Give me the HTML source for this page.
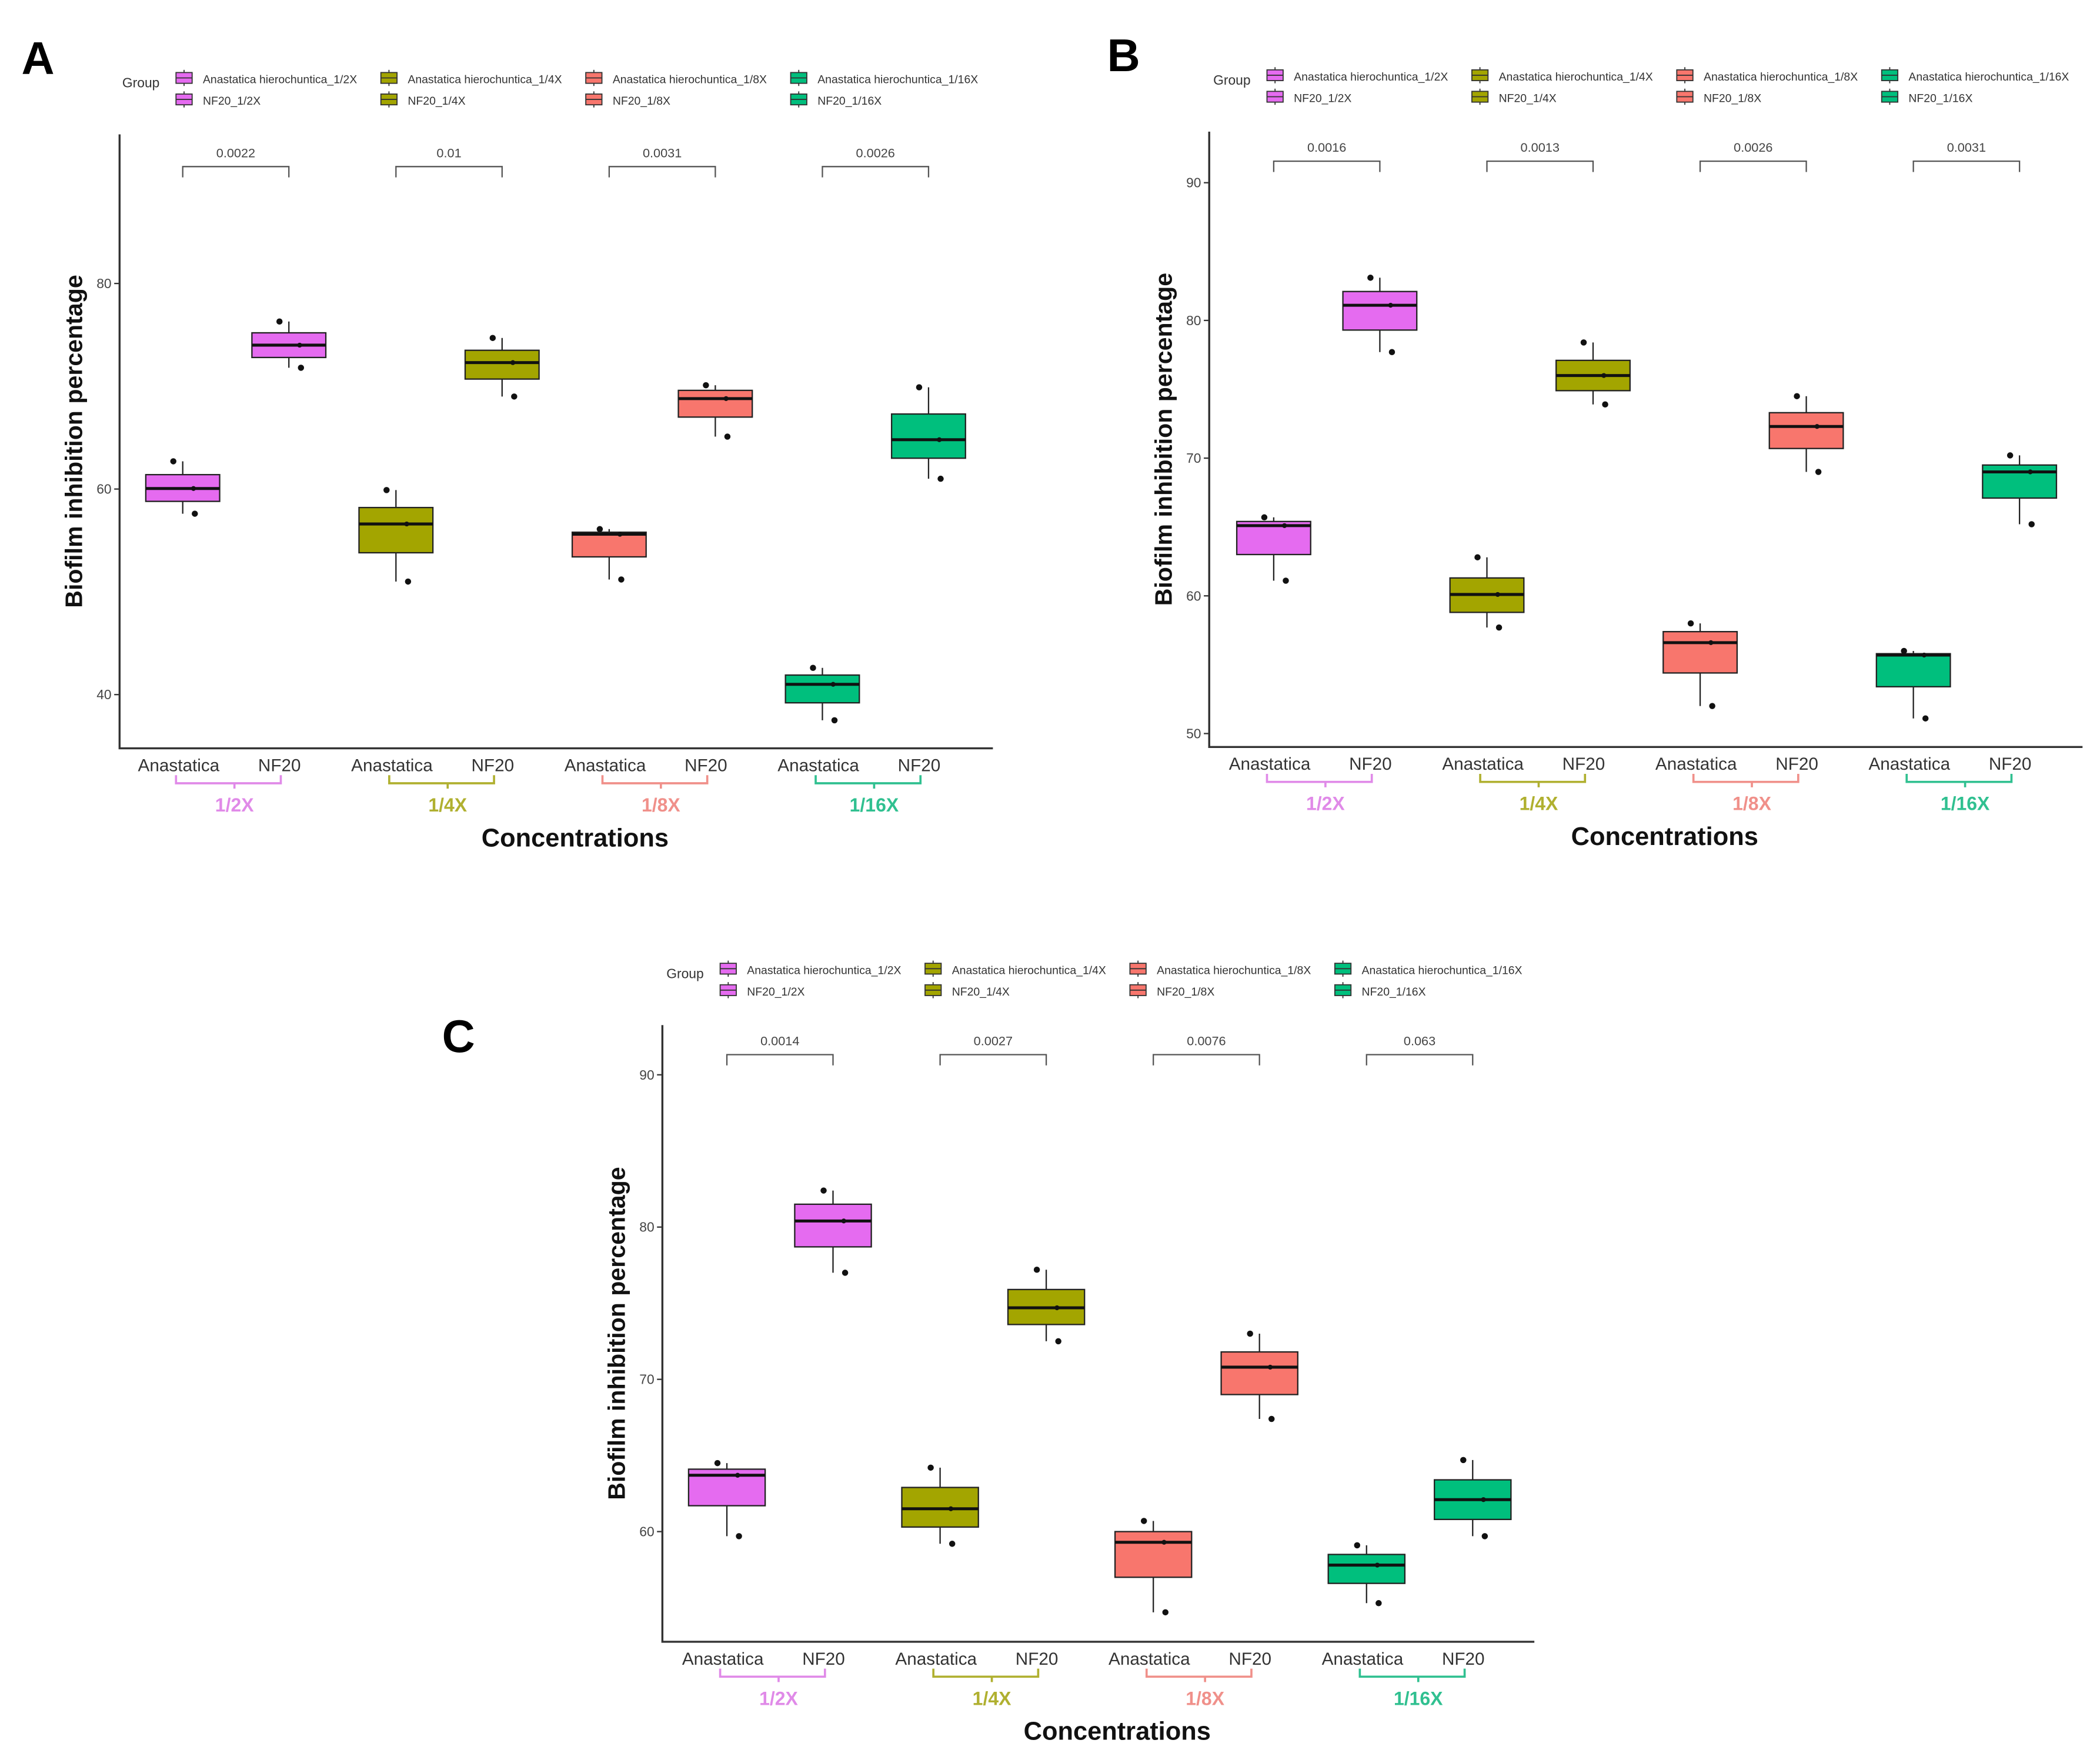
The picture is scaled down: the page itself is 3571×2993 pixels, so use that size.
<!DOCTYPE html>
<html><head><meta charset="utf-8"><style>
html,body{margin:0;padding:0;background:#fff}
svg{display:block}
text{font-family:"Liberation Sans",Arial,sans-serif}
</style></head><body>
<svg id="fig" width="3571" height="2993" viewBox="0 0 1563 1310" preserveAspectRatio="none" xmlns="http://www.w3.org/2000/svg"></svg>
<script>
const groups = ["1/2X","1/4X","1/8X","1/16X"];
const colors = ["#E56BF0","#A3A500","#F8766D","#00BF7D"];
const labelColors = ["#E08AE8","#B0B030","#F0908A","#30C090"];
// per panel: 8 boxes order A1/2,N1/2,A1/4,N1/4,A1/8,N1/8,A1/16,N1/16
const aMin=[57.6,71.8,51.0,69.0,51.2,65.1,37.5,61.0];
const aQ1=[58.8,72.8,53.8,70.7,53.4,67.0,39.2,63.0];
const aMed=[60.05,74.0,56.6,72.3,55.6,68.8,41.0,64.8];
const aQ3=[61.4,75.2,58.2,73.5,55.8,69.6,41.9,67.3];
const aMax=[62.7,76.3,59.9,74.7,56.1,70.1,42.6,69.9];
const aP=["0.0022","0.01","0.0031","0.0026"];
const bMin=[61.1,77.7,57.7,73.9,52.0,69.0,51.1,65.2];
const bQ1=[63.0,79.3,58.8,74.9,54.4,70.7,53.4,67.1];
const bMed=[65.1,81.1,60.1,76.0,56.6,72.3,55.7,69.0];
const bQ3=[65.4,82.1,61.3,77.1,57.4,73.3,55.8,69.5];
const bMax=[65.7,83.1,62.8,78.4,58.0,74.5,56.0,70.2];
const bP=["0.0016","0.0013","0.0026","0.0031"];
const cMin=[59.7,77.0,59.2,72.5,54.7,67.4,55.3,59.7];
const cQ1=[61.7,78.7,60.3,73.6,57.0,69.0,56.6,60.8];
const cMed=[63.7,80.4,61.5,74.7,59.3,70.8,57.8,62.1];
const cQ3=[64.1,81.5,62.9,75.9,60.0,71.8,58.5,63.4];
const cMax=[64.5,82.4,64.2,77.2,60.7,73.0,59.1,64.7];
const cP=["0.0014","0.0027","0.0076","0.063"];
const aTicks=[40,60,80], bTicks=[50,60,70,80,90], cTicks=[60,70,80,90];

const svg=document.getElementById('fig');
const NS="http://www.w3.org/2000/svg";
function mk(tag,attrs,parent){const e=document.createElementNS(NS,tag);for(const k in attrs)e.setAttribute(k,attrs[k]);(parent||svg).appendChild(e);return e;}
function txt(s,attrs,parent){const e=mk('text',attrs,parent);e.textContent=s;return e;}

function panel(cfg){
  const g=mk('g',{});
  
  
  const y=v=>cfg.y0px+(v-cfg.y0v)*(cfg.y1px-cfg.y0px)/(cfg.y1v-cfg.y0v);
  const x=i=>cfg.x0+(i%2)*79+Math.floor(i/2)*158.7;
  const L=txt(cfg.letter,{x:cfg.lx,y:cfg.ly,'font-size':34,'font-weight':'bold',fill:'#000'},g);
  
  
  // legend
  const gl=txt('Group',{x:cfg.legX,y:cfg.legY+12,'font-size':10,fill:'#333'},g);
  
  
  for(let k=0;k<4;k++){
    for(let r=0;r<2;r++){
      const kx=cfg.legX+40+k*152.5, ky=cfg.legY+r*16;
      const eg=mk('g',{},g);
      
      
      mk('line',{x1:kx+6,x2:kx+6,y1:ky-1,y2:ky+11,stroke:'#333','stroke-width':0.8},eg);
      mk('rect',{x:kx,y:ky+1,width:12,height:8,fill:colors[k],stroke:'#333','stroke-width':0.8},eg);
      mk('line',{x1:kx,x2:kx+12,y1:ky+5,y2:ky+5,stroke:'#333','stroke-width':0.8},eg);
      txt((r==0?'Anastatica hierochuntica_':'NF20_')+groups[k],{x:kx+20,y:ky+9,'font-size':8.5,fill:'#333'},eg);
    }
  }
  // axes
  const ax=mk('path',{d:`M${cfg.axL},${cfg.axT}V${cfg.axB}H${cfg.axR}`,fill:'none',stroke:'#333','stroke-width':1.5},g);
  
  
  cfg.ticks.forEach(t=>{
    mk('line',{x1:cfg.axL-4,x2:cfg.axL,y1:y(t),y2:y(t),stroke:'#333','stroke-width':1},g);
    const tl=txt(String(t),{x:cfg.axL-6,y:y(t)+3.5,'font-size':10,fill:'#444','text-anchor':'end'},g);
    
    
  });
  const yt=txt('Biofilm inhibition percentage',{x:0,y:0,'font-size':18,'font-weight':'bold',fill:'#111','text-anchor':'middle',transform:`translate(${cfg.axL-28},${(cfg.axT+cfg.axB)/2}) rotate(-90)`},g);
  
  
  // boxes
  const bw=cfg.bw;
  for(let i=0;i<8;i++){
    const c=colors[Math.floor(i/2)], cx=x(i);
    const bg=mk('g',{},g);
    
    
    mk('line',{x1:cx,x2:cx,y1:y(cfg.max[i]),y2:y(cfg.min[i]),stroke:'#222','stroke-width':1},bg);
    mk('rect',{x:cx-bw/2,y:y(cfg.q3[i]),width:bw,height:y(cfg.q1[i])-y(cfg.q3[i]),fill:c,stroke:'#222','stroke-width':1},bg);
    mk('line',{x1:cx-bw/2,x2:cx+bw/2,y1:y(cfg.med[i]),y2:y(cfg.med[i]),stroke:'#111','stroke-width':2.2},bg);
    mk('circle',{cx:cx-7,cy:y(cfg.max[i]),r:2.3,fill:'#111'},bg);
    mk('circle',{cx:cx+9,cy:y(cfg.min[i]),r:2.3,fill:'#111'},bg);
    mk('circle',{cx:cx+8,cy:y(cfg.med[i]),r:1.8,fill:'#111'},bg);
  }
  // brackets + p
  for(let k=0;k<4;k++){
    const x1=x(2*k),x2=x(2*k+1),by=cfg.brY;
    const pg=mk('g',{},g);
    
    
    mk('path',{d:`M${x1},${by+8}V${by}H${x2}V${by+8}`,fill:'none',stroke:'#555','stroke-width':1},pg);
    txt(cfg.p[k],{x:(x1+x2)/2,y:by-7,'font-size':9.5,fill:'#444','text-anchor':'middle'},pg);
    // x labels
    const xl1=txt('Anastatica',{x:x1-3,y:cfg.axB+17,'font-size':13,fill:'#333','text-anchor':'middle'},g);
    
    
    const xl2=txt('NF20',{x:x2-7,y:cfg.axB+17,'font-size':13,fill:'#333','text-anchor':'middle'},g);
    
    
    const mid=(x1+x2)/2-1, lc=labelColors[k];
    mk('path',{d:`M${x1-5},${cfg.axB+20}V${cfg.axB+26}H${x2-6}V${cfg.axB+20}M${mid},${cfg.axB+26}V${cfg.axB+30}`,fill:'none',stroke:lc,'stroke-width':1.6},g);
    const gt=txt(groups[k],{x:mid,y:cfg.axB+47,'font-size':14,'font-weight':'bold',fill:lc,'text-anchor':'middle'},g);
    
    
  }
  const xt=txt('Concentrations',{x:(cfg.axL+cfg.axR)/2+14,y:cfg.axB+73,'font-size':19,'font-weight':'bold',fill:'#111','text-anchor':'middle'},g);
  
  
}
panel({letter:'A',lx:16,ly:55,legX:91,legY:53,axL:89,axR:739,axT:100,axB:557,x0:136,bw:55,
  y0v:40,y0px:517,y1v:80,y1px:211,ticks:aTicks,min:aMin,q1:aQ1,med:aMed,q3:aQ3,max:aMax,p:aP,brY:124});
panel({letter:'B',lx:824,ly:53,legX:903,legY:51,axL:900,axR:1550,axT:98,axB:556,x0:948,bw:55,
  y0v:50,y0px:546,y1v:90,y1px:136,ticks:bTicks,min:bMin,q1:bQ1,med:bMed,q3:bQ3,max:bMax,p:bP,brY:120});
panel({letter:'C',lx:329,ly:783,legX:496,legY:716,axL:493,axR:1142,axT:763,axB:1222,x0:541,bw:57,
  y0v:60,y0px:1140,y1v:90,y1px:800,ticks:cTicks,min:cMin,q1:cQ1,med:cMed,q3:cQ3,max:cMax,p:cP,brY:785});
</script>
</body></html>
